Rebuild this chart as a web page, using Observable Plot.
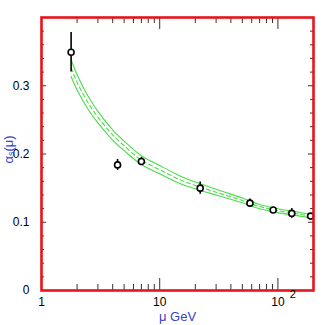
<!DOCTYPE html>
<html><head><meta charset="utf-8">
<script src="https://cdn.jsdelivr.net/npm/d3@7"></script>
<script src="https://cdn.jsdelivr.net/npm/@observablehq/plot@0.6"></script>
<style>body{margin:0;background:#fff}</style>
</head><body><div id="chart"></div>
<script>
// measured points
const muPoints = [1.78, 4.4, 7.0, 22, 58, 91.2, 131, 189];
const alphaPoints = [0.349, 0.184, 0.189, 0.150, 0.128, 0.118, 0.113, 0.109];
const alphaErrors = [0.029, 0.008, 0.006, 0.009, 0.006, 0.002, 0.007, 0.003];

// theory band
const muCurve = [1.78, 2, 2.5, 3, 4, 5, 7, 10, 15, 20, 30, 50, 70, 100, 150, 200];
const alphaMid = [0.326, 0.305, 0.274, 0.254, 0.228, 0.212, 0.191, 0.177, 0.162, 0.154, 0.144, 0.132, 0.123, 0.117, 0.112, 0.108];
const alphaUpper = [0.3385, 0.3162, 0.2835, 0.2625, 0.2355, 0.219, 0.1975, 0.183, 0.1675, 0.159, 0.1482, 0.1355, 0.1261, 0.1199, 0.1147, 0.1106];
const alphaLower = [0.3135, 0.2938, 0.2645, 0.2455, 0.2205, 0.205, 0.1845, 0.171, 0.1565, 0.149, 0.1398, 0.1285, 0.1199, 0.1141, 0.1093, 0.1054];

// ticks
const xTickValues = [1, 10, 100];
const xTickLabels = ["1", "10", "10"];
const xTickExponents = ["", "", "2"];
const xMinorTicks = [2, 3, 4, 5, 6, 7, 8, 9, 20, 30, 40, 50, 60, 70, 80, 90];
const xMajorTicks = [10, 100];
const yTickValues = [0, 0.1, 0.2, 0.3];
const yTickLabels = ["0", "0.1", "0.2", "0.3"];
const yMinorTicks = [0.02, 0.04, 0.06, 0.08, 0.12, 0.14, 0.16, 0.18, 0.22, 0.24, 0.26, 0.28, 0.32, 0.34, 0.36, 0.38];
const yMajorTicks = [0.1, 0.2, 0.3];

const points = muPoints.map((mu, i) => ({mu, a: alphaPoints[i], lo: alphaPoints[i] - alphaErrors[i], hi: alphaPoints[i] + alphaErrors[i]}));
const curve = muCurve.map((mu, i) => ({mu, mid: alphaMid[i], up: alphaUpper[i], low: alphaLower[i]}));

const W = 327, H = 325, mL = 41, mR = 14, mT = 17, mB = 35;
const fw = W - mL - mR, fh = H - mT - mB;
const green = "#4cdc4c";
const blue = "#3344cc";
const tickColor = "#333";
const exps = xTickValues.map((v, i) => ({v, e: xTickExponents[i]})).filter(d => d.e);

const chart = Plot.plot({
  width: W, height: H,
  marginLeft: mL, marginRight: mR, marginTop: mT, marginBottom: mB,
  style: {fontFamily: "'Liberation Sans', Arial, sans-serif", fontSize: "12px", background: "#fff"},
  x: {type: "log", domain: [1, 200], axis: null},
  y: {domain: [0, 0.4], axis: null},
  marks: [
    // ticks bottom/top
    Plot.ruleX(xMinorTicks, {x: d => d, insetTop: fh - 6, stroke: tickColor}),
    Plot.ruleX(xMajorTicks, {x: d => d, insetTop: fh - 12, stroke: tickColor}),
    Plot.ruleX(xMinorTicks, {x: d => d, insetBottom: fh - 6, stroke: tickColor}),
    Plot.ruleX(xMajorTicks, {x: d => d, insetBottom: fh - 12, stroke: tickColor}),
    // ticks left/right
    Plot.ruleY(yMinorTicks, {y: d => d, insetRight: fw - 3, stroke: tickColor}),
    Plot.ruleY(yMajorTicks, {y: d => d, insetRight: fw - 5, stroke: tickColor}),
    Plot.ruleY(yMinorTicks, {y: d => d, insetLeft: fw - 3, stroke: tickColor}),
    Plot.ruleY(yMajorTicks, {y: d => d, insetLeft: fw - 5, stroke: tickColor}),
    // band
    Plot.line(curve, {x: "mu", y: "up", stroke: green, strokeWidth: 1.1, curve: "catmull-rom"}),
    Plot.line(curve, {x: "mu", y: "low", stroke: green, strokeWidth: 1.1, curve: "catmull-rom"}),
    Plot.line(curve, {x: "mu", y: "mid", stroke: green, strokeWidth: 1.1, strokeDasharray: "4,3", curve: "catmull-rom"}),
    // data
    Plot.ruleX(points, {x: "mu", y1: "lo", y2: "hi", stroke: "#000", strokeWidth: 1.6}),
    Plot.dot(points, {x: "mu", y: "a", r: 3, stroke: "#000", strokeWidth: 1.6, fill: "#fff"}),
    // frame
    Plot.frame({stroke: "#e8141b", strokeWidth: 2.6}),
    // tick labels
    Plot.text(yTickValues, {y: d => d, text: (d, i) => yTickLabels[i], frameAnchor: "left", dx: -12, textAnchor: "end", fill: "#000"}),
    Plot.text(xTickValues, {x: d => d, text: (d, i) => xTickLabels[i], frameAnchor: "bottom", dy: 12, lineAnchor: "middle", fill: "#000"}),
    Plot.text(exps, {x: "v", text: "e", frameAnchor: "bottom", dy: 4, dx: 15, lineAnchor: "middle", fontSize: 11, fill: "#000"}),
    // axis titles
    Plot.text(["μ GeV"], {text: d => d, frameAnchor: "bottom", dy: 26, lineAnchor: "middle", fontSize: 13, fill: blue}),
    Plot.text(["α"], {text: d => d, frameAnchor: "left", dx: -33, dy: 9.5, rotate: -90, textAnchor: "start", lineAnchor: "middle", fontSize: 13, fill: blue}),
    Plot.text(["s"], {text: d => d, frameAnchor: "left", dx: -30, dy: 2, rotate: -90, textAnchor: "start", lineAnchor: "middle", fontSize: 9, fill: blue}),
    Plot.text(["(μ)"], {text: d => d, frameAnchor: "left", dx: -33, dy: -2.5, rotate: -90, textAnchor: "start", lineAnchor: "middle", fontSize: 13, fill: blue})
  ]
});
document.getElementById("chart").append(chart);
</script>
</body></html>
